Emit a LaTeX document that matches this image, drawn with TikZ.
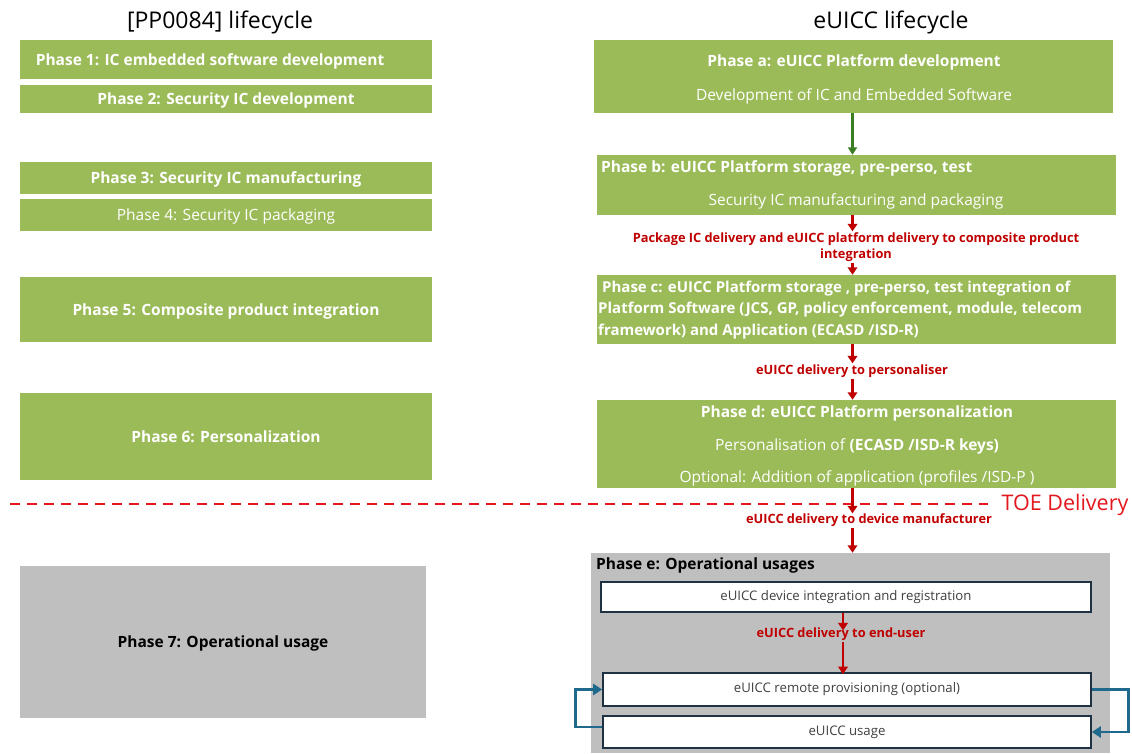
\documentclass[tikz,border=0pt]{standalone}
\usepackage{fontspec}
\setmainfont{Open Sans}
\usetikzlibrary{arrows.meta}
\definecolor{pgreen}{HTML}{9BBB59}
\definecolor{pgray}{HTML}{BFBFBF}
\definecolor{dred}{HTML}{C00000}
\definecolor{lred}{HTML}{E3171D}
\definecolor{dgreen}{HTML}{3A7D22}
\definecolor{lblue}{HTML}{1F6A8C}
\definecolor{navy}{HTML}{1F3244}
\tikzset{
  gbox/.style={fill=pgreen, draw=none, inner sep=0pt, text=white, align=center, text depth=0pt},
  graybox/.style={fill=pgray, draw=none, inner sep=0pt, align=center, text depth=0pt},
  wbox/.style={fill=white, draw=navy, line width=1.6pt, inner sep=0pt, text=black!75,
    font=\fontsize{13.2}{15}\selectfont},
  bt/.style={font=\fontsize{15.5}{18}\selectfont\bfseries},
  rt/.style={font=\fontsize{15.5}{18}\selectfont},
  wt/.style={text=white, inner sep=0pt},
  title/.style={font=\fontsize{23}{27}\selectfont, text=black},
  redlbl/.style={text=dred, font=\fontsize{12.8}{16}\selectfont\bfseries, align=center, inner sep=1pt},
  redarr/.style={draw=dred, line width=2.8pt, -{Triangle[length=7.5pt,width=9.5pt]}},
  grnarr/.style={draw=dgreen, line width=2.6pt, -{Triangle[length=7.5pt,width=9pt]}},
  bluearr/.style={draw=lblue, line width=2.8pt, -{Triangle[length=9pt,width=11pt]}},
  toeline/.style={draw=lred, line width=2pt, dash pattern=on 10pt off 7pt},
}
\begin{document}
\begin{tikzpicture}[x=1pt,y=-1pt]
\useasboundingbox (0,0) rectangle (1132,753);
% titles
\node[title] (tl) at (220,22) {[PP0084] lifecycle};
\node[title] (tr) at (891,22) {eUICC lifecycle};
% left column
\node[gbox, bt, minimum width=412pt, minimum height=39pt] (p1) at (226,59.5) {\hspace*{-32pt}Phase 1: IC embedded software development};
\node[gbox, bt, minimum width=412pt, minimum height=28pt] (p2) at (226,99) {Phase 2: Security IC development};
\node[gbox, bt, minimum width=412pt, minimum height=32pt] (p3) at (226,178) {Phase 3: Security IC manufacturing};
\node[gbox, rt, minimum width=412pt, minimum height=32pt] (p4) at (226,215) {Phase 4: Security IC packaging};
\node[gbox, bt, minimum width=412pt, minimum height=65pt] (p5) at (226,309.5) {Phase 5: Composite product integration};
\node[gbox, bt, minimum width=412pt, minimum height=87pt] (p6) at (226,436.5) {Phase 6: Personalization};
\node[graybox, bt, minimum width=406pt, minimum height=152pt] (p7) at (223,642) {Phase 7: Operational usage};
% right column boxes
\node[gbox, minimum width=519pt, minimum height=73pt] (pa) at (853.5,76.5) {};
\node[wt, bt] (pat1) at (854,62) {Phase a: eUICC Platform development};
\node[wt, rt] (pat2) at (854,96) {Development of IC and Embedded Software};
\node[gbox, minimum width=519pt, minimum height=60pt] (pb) at (856.5,185) {};
\node[wt, bt, anchor=west] (pbt1) at (601,168) {Phase b: eUICC Platform storage, pre-perso, test};
\node[wt, rt] (pbt2) at (856,201) {Security IC manufacturing and packaging};
\node[gbox, minimum width=519pt, minimum height=69pt] (pc) at (856.5,309.5) {};
\node[wt, anchor=west, align=left, font=\fontsize{15}{21.5}\selectfont\bfseries] (pct) at (598,310)
  {\hspace*{4pt}Phase c: eUICC Platform storage , pre-perso, test integration of\\
   Platform Software (JCS, GP, policy enforcement, module, telecom\\
   framework) and Application (ECASD /ISD-R)};
\node[gbox, minimum width=519pt, minimum height=88pt] (pd) at (856.5,444) {};
\node[wt, bt] (pdt1) at (857,413) {Phase d: eUICC Platform personalization};
\node[wt, rt] (pdt2) at (857,446) {Personalisation of \textbf{(ECASD /ISD-R keys)}};
\node[wt, rt] (pdt3) at (857,478) {Optional: Addition of application (profiles /ISD-P )};
% phase e
\node[graybox, minimum width=519pt, minimum height=200pt] (pe) at (850.5,653) {};
\node[bt, text=black, anchor=west, inner sep=0pt] (pet) at (596,565) {Phase e: Operational usages};
\node[wbox, minimum width=490pt, minimum height=30pt] (b1) at (846,597) {eUICC device integration and registration};
\node[wbox, minimum width=488pt, minimum height=33pt] (prov) at (847,689.5) {eUICC remote provisioning (optional)};
\node[wbox, minimum width=488pt, minimum height=32pt] (use) at (847,732) {eUICC usage};
% red labels
\node[redlbl] (lpkg) at (856,247) {Package IC delivery and eUICC platform delivery to composite product\\integration};
\node[redlbl] (lpers) at (852,371) {eUICC delivery to personaliser};
\node[redlbl] (ldev) at (869,520) {eUICC delivery to device manufacturer};
\node[redlbl] (lend) at (841,634) {eUICC delivery to end-user};
% TOE delivery line
\coordinate (dl) at (10,504);
\coordinate (dr) at (988,504);
\draw[toeline] (dl) -- (dr);
\node[text=lred, font=\fontsize{21.5}{24}\selectfont, inner sep=0pt] (toe) at (1065,505) {TOE Delivery};
% arrows
\coordinate (ax) at (852.5,0);
\coordinate (ix) at (843,0);
\draw[grnarr] (pa.south -| ax) -- (pb.north -| ax);
\draw[redarr] (pb.south -| ax) -- (lpkg.north -| ax);
\draw[redarr] (lpkg.south -| ax) -- (pc.north -| ax);
\draw[redarr] (pc.south -| ax) -- (lpers.north -| ax);
\draw[redarr] (lpers.south -| ax) -- (pd.north -| ax);
\draw[redarr] (pd.south -| ax) -- ([yshift=-1pt]ldev.north -| ax);
\draw[redarr] (ldev.south -| ax) -- (pe.north -| ax);
\draw[redarr] (b1.south -| ix) -- ([yshift=-4pt]lend.north -| ix);
\draw[redarr] (lend.south -| ix) -- ([yshift=-2pt]prov.north -| ix);
\draw[bluearr] ([yshift=5pt]use.west) -- ++(-27,0) |- (prov.west);
\draw[bluearr] (prov.east) -- ++(37,0) |- (use.east);
\end{tikzpicture}
\end{document}
